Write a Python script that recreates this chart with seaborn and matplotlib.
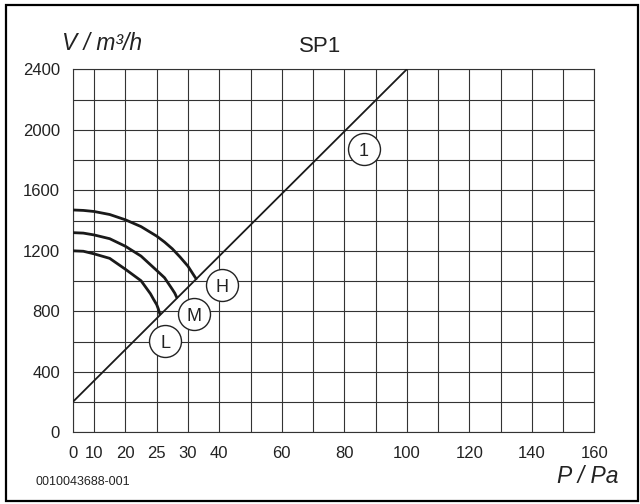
import numpy as np
import pandas as pd
import matplotlib
matplotlib.use("Agg")
import matplotlib.pyplot as plt
import seaborn as sns
from matplotlib.patches import Rectangle

# ---------------- data ----------------
line1_p = [0, 100]
line1_v = [200, 2400]

curve_h_p = [0, 5, 10, 15, 20, 22.5, 25, 26.25, 27.5, 28.75, 30, 31.4, 31.9, 32.6]
curve_h_v = [1470, 1467, 1460, 1440, 1405, 1360, 1297, 1258, 1213, 1158, 1098, 1053, 1037, 1015]
curve_m_p = [0, 5, 10, 15, 20, 22.5, 25, 26.25, 27.5, 27.9, 28.2]
curve_m_v = [1320, 1317, 1305, 1280, 1230, 1165, 1070, 1022, 945, 919, 892]
curve_l_p = [0, 5, 10, 15, 20, 22.5, 24, 24.5, 25, 25.25, 25.5]
curve_l_v = [1200, 1197, 1180, 1150, 1078, 1002, 916, 879, 844, 817, 782]

marker_names = ["1", "H", "M", "L"]
marker_p = [86.3, 40.9, 31.8, 26.4]
marker_v = [1871, 972, 782, 601]

x_major = [0, 10, 20, 25, 30, 40, 60, 80, 100, 120, 140, 160]
x_minor = [50, 70, 90, 110, 130, 150]
y_major = [0, 400, 800, 1200, 1600, 2000, 2400]
y_minor = [200, 600, 1000, 1400, 1800, 2200]

title_text = "SP1"
ylabel_text = "V / m³/h"
xlabel_text = "P / Pa"
code_text = "0010043688-001"

# ---------------- style ----------------
sns.set_theme(style="white")
plt.rcParams["font.family"] = ["Liberation Sans", "DejaVu Sans"]
plt.rcParams["axes.unicode_minus"] = False

W, H = 640, 504
fig = plt.figure(figsize=(6.4, 5.04), dpi=100)
ax = fig.add_axes([72.7 / W, 1 - 432.3 / H, (594.3 - 72.7) / W, (432.3 - 69.3) / H])

# non-uniform pressure axis (as drawn in the reference)
p_knots = np.array([0, 10, 20, 25, 30, 160], float)
q_knots = np.array([0.0, 21.3, 52.7, 84.0, 115.3, 521.6])


def _pl(x, a, b):
    x = np.asarray(x, float)
    y = np.interp(x, a, b)
    s0 = (b[1] - b[0]) / (a[1] - a[0])
    s1 = (b[-1] - b[-2]) / (a[-1] - a[-2])
    y = np.where(x < a[0], b[0] + (x - a[0]) * s0, y)
    y = np.where(x > a[-1], b[-1] + (x - a[-1]) * s1, y)
    return y


ax.set_xscale("function", functions=(lambda x: _pl(x, p_knots, q_knots),
                                     lambda q: _pl(q, q_knots, p_knots)))

grid_c = "#333333"

curves = pd.DataFrame({
    "P": curve_h_p + curve_m_p + curve_l_p,
    "V": curve_h_v + curve_m_v + curve_l_v,
    "speed": ["H"] * len(curve_h_p) + ["M"] * len(curve_m_p) + ["L"] * len(curve_l_p),
})
sns.lineplot(data=curves, x="P", y="V", hue="speed", units="speed", estimator=None,
             palette={"H": "#1a1a1a", "M": "#1a1a1a", "L": "#1a1a1a"},
             legend=False, sort=False, lw=2.0, ax=ax, zorder=3)

line1 = pd.DataFrame({"P": line1_p, "V": line1_v})
sns.lineplot(data=line1, x="P", y="V", color="#1a1a1a", lw=1.3, ax=ax, zorder=3)

ax.scatter(marker_p, marker_v, s=530, facecolor="white", edgecolor="#222222",
           linewidths=1.0, zorder=4)
for n, p, v in zip(marker_names, marker_p, marker_v):
    ax.text(p, v, n, ha="center", va="center_baseline", fontsize=13,
            color="#222222", zorder=5)

ax.set_xlim(0, 160)
ax.set_ylim(0, 2400)
ax.set_xticks(x_major)
ax.set_xticklabels([str(v) for v in x_major])
ax.set_xticks(x_minor, minor=True)
ax.set_yticks(y_major)
ax.set_yticklabels([str(v) for v in y_major])
ax.set_yticks(y_minor, minor=True)
ax.grid(which="both", color=grid_c, lw=0.8)
ax.set_axisbelow(True)
ax.set_xlabel("")
ax.set_ylabel("")
for s in ax.spines.values():
    s.set_visible(True)
    s.set_color(grid_c)
    s.set_linewidth(0.8)
ax.tick_params(axis="both", which="both", length=2, width=0.8, color=grid_c,
               direction="out", labelsize=12, labelcolor="#222222")
ax.tick_params(axis="x", which="both", pad=7.7)
ax.tick_params(axis="y", which="both", pad=7.2)

# texts
fig.text(61.7 / W, 1 - 50 / H, ylabel_text, ha="left", va="baseline",
         fontsize=16.5, style="italic", color="#222222")
fig.text(320 / W, 1 - 51.7 / H, title_text, ha="center", va="baseline",
         fontsize=16, color="#222222")
fig.text(618.3 / W, 1 - 483.3 / H, xlabel_text, ha="right", va="baseline",
         fontsize=16.5, style="italic", color="#222222")
fig.text(35 / W, 1 - 485 / H, code_text, ha="left", va="baseline",
         fontsize=9, color="#222222")

# outer frame
fig.patches.append(Rectangle((5.5 / W, 1 - 501 / H), (638 - 5.5) / W, (501 - 5) / H,
                             transform=fig.transFigure, fill=False,
                             edgecolor="black", lw=1.6))

fig.savefig("out.png", dpi=100)
